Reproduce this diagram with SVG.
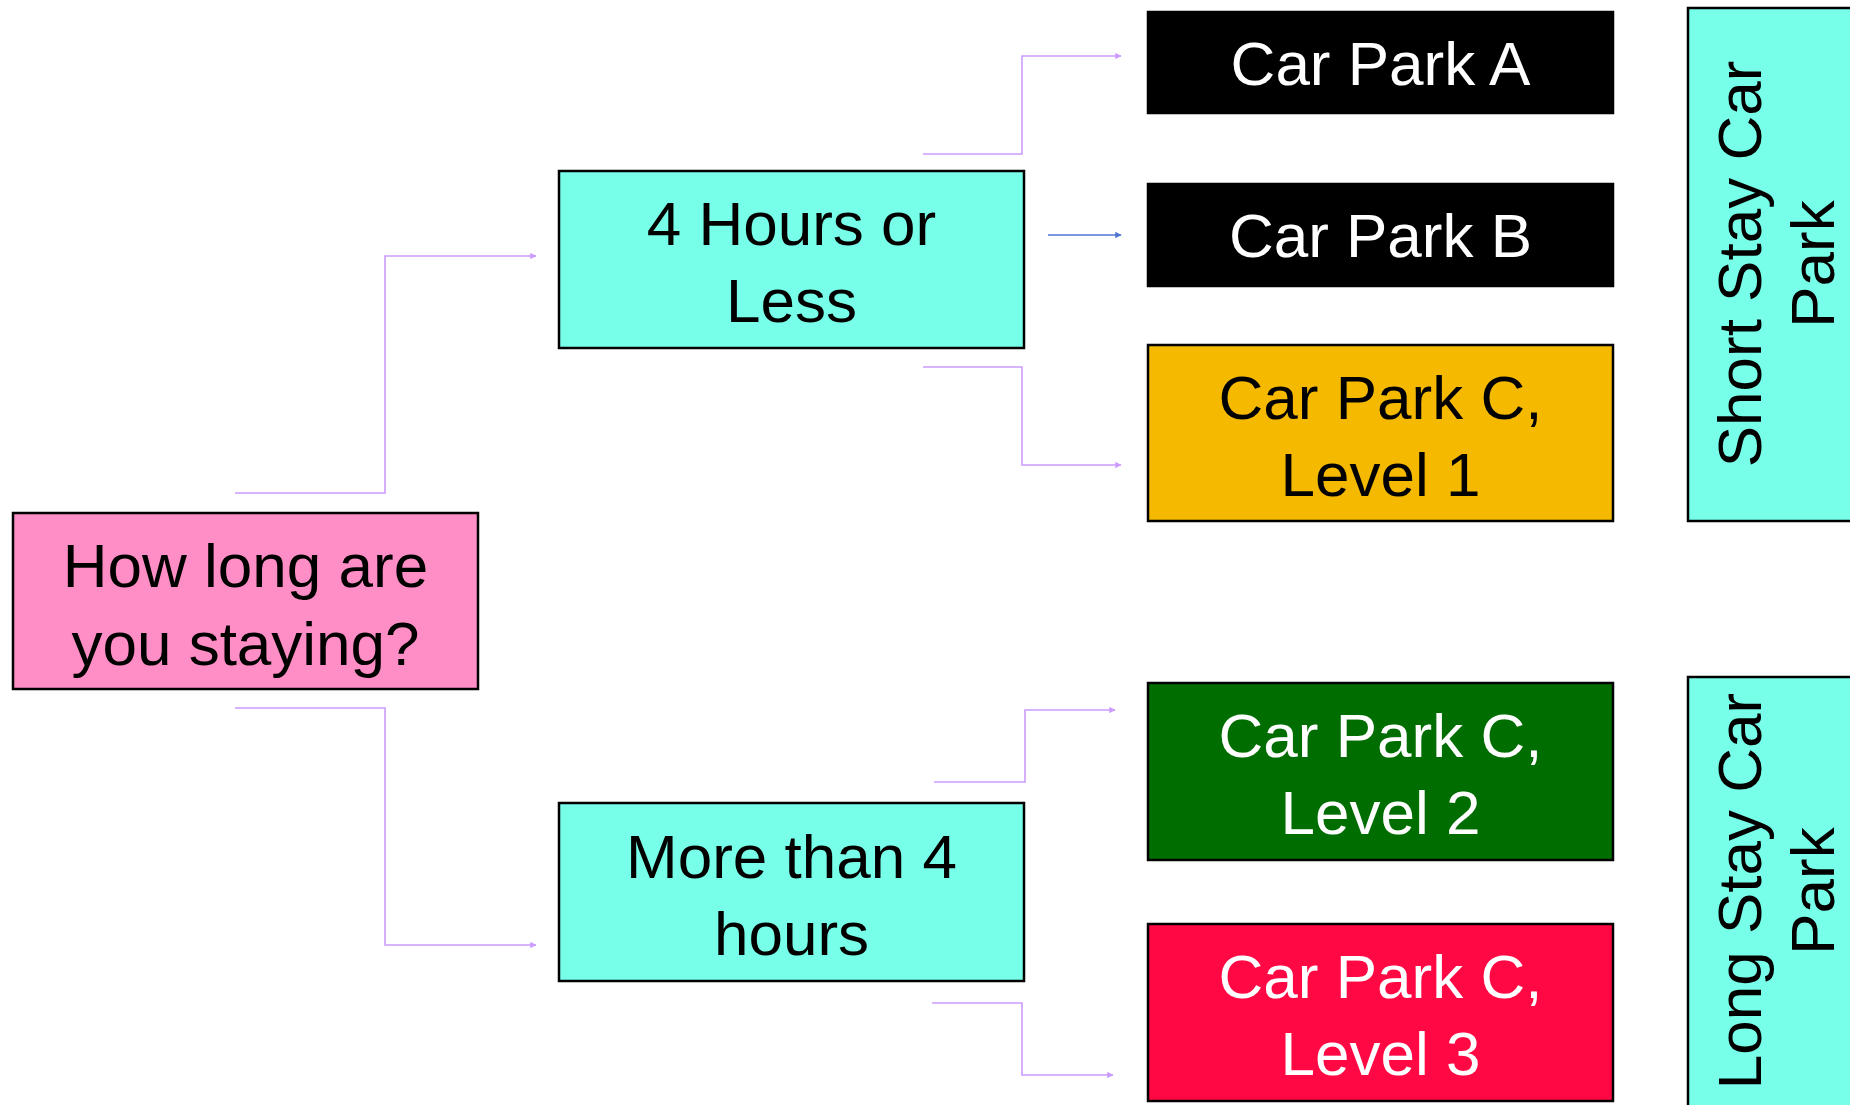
<svg xmlns="http://www.w3.org/2000/svg" width="1850" height="1105" viewBox="0 0 1850 1105">
<style>
.box{stroke:#000;stroke-width:2.5}
.t{font-family:"Liberation Sans",Arial,sans-serif;font-size:62px;text-anchor:middle}
.dk{fill:#000}
.wt{fill:#fff}
.cn{fill:none;stroke:#cc9bff;stroke-width:1.6}
.bl{fill:none;stroke:#4f74d2;stroke-width:1.6}
</style>
<defs>
<marker id="ap" viewBox="0 0 10 10" refX="9" refY="5" markerWidth="4" markerHeight="4" orient="auto" markerUnits="strokeWidth"><path d="M0,0 L10,5 L0,10 z" fill="#cc9bff"/></marker>
<marker id="ab" viewBox="0 0 10 10" refX="9" refY="5" markerWidth="4" markerHeight="4" orient="auto" markerUnits="strokeWidth"><path d="M0,0 L10,5 L0,10 z" fill="#4f74d2"/></marker>
</defs>
<rect width="1850" height="1105" fill="#fff"/>
<g id="connectors">
<polyline class="cn" points="235,493 385,493 385,256 536,256" marker-end="url(#ap)"/>
<polyline class="cn" points="235,708 385,708 385,945 536,945" marker-end="url(#ap)"/>
<polyline class="cn" points="923,154 1022,154 1022,56 1121,56" marker-end="url(#ap)"/>
<line class="bl" x1="1048" y1="235" x2="1121" y2="235" marker-end="url(#ab)"/>
<polyline class="cn" points="923,367 1022,367 1022,465 1121,465" marker-end="url(#ap)"/>
<polyline class="cn" points="934,782 1025,782 1025,710 1115,710" marker-end="url(#ap)"/>
<polyline class="cn" points="932,1003 1022,1003 1022,1075 1113,1075" marker-end="url(#ap)"/>
</g>
<g id="root">
<rect class="box" x="13" y="513" width="465" height="176" fill="#ff8ec6"/>
<text class="t dk" x="245.5" y="587">How long are</text>
<text class="t dk" x="245.5" y="665">you staying?</text>
</g>
<g id="short">
<rect class="box" x="559" y="171" width="465" height="177" fill="#78ffe9"/>
<text class="t dk" x="791.5" y="245">4 Hours or</text>
<text class="t dk" x="791.5" y="322">Less</text>
</g>
<g id="long">
<rect class="box" x="559" y="803" width="465" height="178" fill="#78ffe9"/>
<text class="t dk" x="791.5" y="878">More than 4</text>
<text class="t dk" x="791.5" y="955">hours</text>
</g>
<g id="cpa">
<rect class="box" x="1148" y="12" width="465" height="101" fill="#000"/>
<text class="t wt" x="1380.5" y="85">Car Park A</text>
</g>
<g id="cpb">
<rect class="box" x="1148" y="184" width="465" height="102" fill="#000"/>
<text class="t wt" x="1380.5" y="257">Car Park B</text>
</g>
<g id="cpc1">
<rect class="box" x="1148" y="345" width="465" height="176" fill="#f5b900"/>
<text class="t dk" x="1380.5" y="419">Car Park C,</text>
<text class="t dk" x="1380.5" y="496">Level 1</text>
</g>
<g id="cpc2">
<rect class="box" x="1148" y="683" width="465" height="177" fill="#006d00"/>
<text class="t wt" x="1380.5" y="757">Car Park C,</text>
<text class="t wt" x="1380.5" y="834">Level 2</text>
</g>
<g id="cpc3">
<rect class="box" x="1148" y="924" width="465" height="177" fill="#ff0844"/>
<text class="t wt" x="1380.5" y="998">Car Park C,</text>
<text class="t wt" x="1380.5" y="1075">Level 3</text>
</g>
<g id="shortstay">
<rect class="box" x="1688" y="8" width="200" height="513" fill="#78ffe9"/>
<g transform="rotate(-90)">
<text class="t dk" x="-264" y="1761">Short Stay Car</text>
<text class="t dk" x="-264" y="1834">Park</text>
</g>
</g>
<g id="longstay">
<rect class="box" x="1688" y="677" width="200" height="460" fill="#78ffe9"/>
<g transform="rotate(-90)">
<text class="t dk" x="-891" y="1761">Long Stay Car</text>
<text class="t dk" x="-891" y="1834">Park</text>
</g>
</g>
</svg>
